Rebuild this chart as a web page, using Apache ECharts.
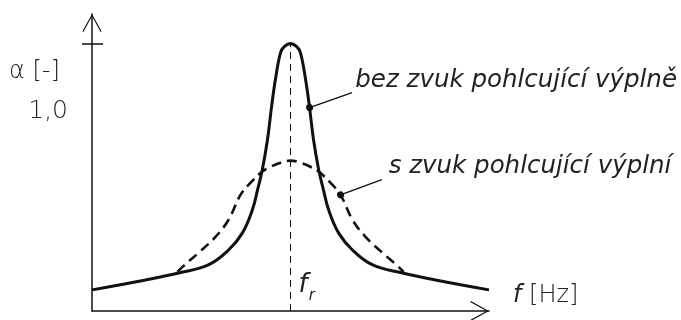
<!DOCTYPE html>
<html>
<head>
<meta charset="utf-8">
<script src="https://cdn.jsdelivr.net/npm/echarts@6/dist/echarts.min.js"></script>
<style>
  html, body { margin: 0; padding: 0; background: #fff; }
  #chartWrap { width: 681px; height: 320px; }
</style>
</head>
<body>
<div id="chartWrap"></div>
<script>
// frekvence (relativni jednotky, f_r = 50)
var solidF = [0, 13.5, 21.8, 29.3, 34.4, 37.9, 40.4, 41.7, 42.9, 44.2, 45.2, 46.2, 47.5, 48.5, 50,
  51.5, 52.5, 53.8, 54.8, 55.8, 57.1, 58.3, 59.6, 62.1, 65.6, 70.7, 78.2, 86.5, 100];
// alfa bez zvuk pohlcujici vyplne
var solidA = [0.079, 0.116, 0.142, 0.172, 0.228, 0.292, 0.378, 0.453, 0.528, 0.640, 0.760, 0.865, 0.966, 0.989, 1.0,
  0.989, 0.966, 0.865, 0.760, 0.640, 0.528, 0.453, 0.378, 0.292, 0.228, 0.172, 0.142, 0.116, 0.079];
// alfa s zvuk pohlcujici vyplni
var dashF = [21.5, 22.8, 26.8, 31.1, 34.4, 37.4, 39.9, 42.9, 45, 47.5, 50,
  52.5, 55, 57.1, 60.1, 62.6, 65.6, 68.9, 73.2, 77.2, 78.5];
var dashA = [0.146, 0.165, 0.217, 0.277, 0.341, 0.434, 0.479, 0.521, 0.539, 0.554, 0.562,
  0.554, 0.539, 0.521, 0.479, 0.434, 0.341, 0.277, 0.217, 0.165, 0.146];

var fr = 50;
var peakA = 1.0;
var yTicks = [1.0];
// popisky (odkazove cary: bod na krivce -> konec cary -> text)
var solidLead = [[54.8, 0.760], [65.5, 0.816], [66.2, 0.862]];
var dashLead = [[62.6, 0.434], [73.0, 0.491], [74.6, 0.540]];
var frLabelAt = [51.9, 0.097];

var solidName = 'bez zvuk pohlcující výplně';
var dashName = 's zvuk pohlcující výplní';

var FONT = '"DejaVu Sans"';
var FW = 200;
var INK = '#111';
var TXT = '#222';
var ARROW = 'path://M0,0 L10,18 L9,18.8 L0,2.4 L-9,18.8 L-10,18 Z';

function pairs(xs, ys) {
  var out = [];
  for (var i = 0; i < xs.length; i++) out.push([xs[i], ys[i]]);
  return out;
}

function leader(p) {
  return {
    silent: true,
    animation: false,
    symbol: ['circle', 'none'],
    symbolSize: 7,
    lineStyle: { type: 'solid', width: 1.5, color: INK },
    label: { show: false },
    data: [[{ coord: p[0] }, { coord: p[1] }]]
  };
}

function textPoint(at, text) {
  return {
    silent: true, animation: false, symbol: 'circle', symbolSize: 1,
    itemStyle: { color: 'rgba(0,0,0,0)' },
    label: {
      show: true, position: 'right', distance: 0, color: TXT,
      fontSize: 24.5, fontStyle: 'italic', fontWeight: FW, fontFamily: FONT,
      formatter: text
    },
    data: [{ coord: at }]
  };
}

var myChart = echarts.init(document.getElementById('chartWrap'));

var option = {
  animation: false,
  backgroundColor: '#fff',
  textStyle: { fontFamily: FONT },
  grid: { left: 92, top: 14, width: 397, bottom: 9 },
  xAxis: {
    type: 'value', min: 0, max: 100,
    axisLine: {
      show: true, onZero: false,
      symbol: ['none', ARROW], symbolSize: [20, 19], symbolOffset: [0, -9.5],
      lineStyle: { color: INK, width: 1.5 }
    },
    axisTick: { show: false }, axisLabel: { show: false }, splitLine: { show: false },
    name: '{i|f} [Hz]', nameLocation: 'end', nameGap: 24,
    nameTextStyle: {
      color: TXT, fontSize: 24, fontWeight: FW, fontFamily: FONT, padding: [0, 0, 30, 0],
      rich: { i: { fontSize: 24, fontStyle: 'italic', fontWeight: FW, fontFamily: FONT, color: TXT } }
    }
  },
  yAxis: [{
    type: 'value', min: 0, max: 1.11,
    axisLine: {
      show: true, onZero: false,
      symbol: ['none', ARROW], symbolSize: [21, 18], symbolOffset: [0, -9],
      lineStyle: { color: INK, width: 1.5 }
    },
    axisTick: { show: true, customValues: yTicks, length: 10, lineStyle: { color: INK, width: 1.5 } },
    axisLabel: { show: false }, splitLine: { show: false }
  }, {
    type: 'value', min: 0, max: 1.11, position: 'left', offset: 0,
    axisLine: { show: false },
    axisTick: { show: true, inside: true, customValues: yTicks, length: 11, lineStyle: { color: INK, width: 1.5 } },
    axisLabel: { show: false }, splitLine: { show: false }
  }],
  graphic: [
    { type: 'text', left: 9, top: 60, style: { text: 'α [-]', fontSize: 24, fontWeight: FW, fontFamily: FONT, fill: TXT } },
    { type: 'text', right: 613, top: 99, style: { text: '1,0', fontSize: 25, fontWeight: FW, fontFamily: FONT, fill: TXT } }
  ],
  series: [{
    name: solidName,
    type: 'line', smooth: 0.4, symbol: 'none', z: 3,
    lineStyle: { color: INK, width: 3 },
    data: pairs(solidF, solidA),
    markLine: leader(solidLead),
    markPoint: textPoint(solidLead[2], solidName)
  }, {
    name: dashName,
    type: 'line', smooth: 0.4, symbol: 'none', z: 2,
    lineStyle: { color: INK, width: 2.6, type: [10, 6] },
    data: pairs(dashF, dashA),
    markLine: leader(dashLead),
    markPoint: textPoint(dashLead[2], dashName)
  }, {
    // svisla cara f_r
    type: 'line', symbol: 'none', data: [], z: 1,
    markLine: {
      silent: true, animation: false, symbol: 'none',
      lineStyle: { type: [7, 5], width: 1, color: INK },
      label: { show: false },
      data: [[{ coord: [fr, 0] }, { coord: [fr, peakA] }]]
    },
    markPoint: {
      silent: true, animation: false, symbol: 'circle', symbolSize: 1,
      itemStyle: { color: 'rgba(0,0,0,0)' },
      label: {
        show: true, position: 'right', distance: 0,
        formatter: '{f|f}{r|r}',
        rich: {
          f: { fontSize: 26, fontStyle: 'italic', fontWeight: FW, fontFamily: FONT, color: TXT },
          r: { fontSize: 15, fontStyle: 'italic', fontWeight: FW, fontFamily: FONT, color: TXT, padding: [22, 0, 0, 1] }
        }
      },
      data: [{ coord: frLabelAt }]
    }
  }]
};

myChart.setOption(option);
</script>
</body>
</html>
